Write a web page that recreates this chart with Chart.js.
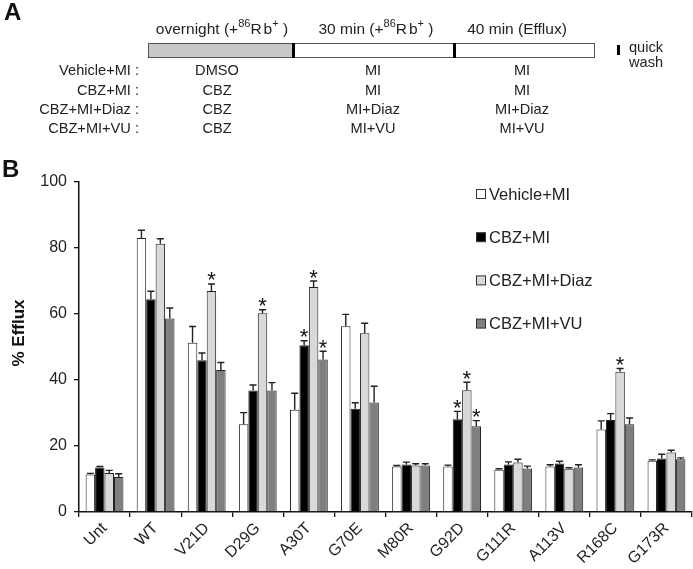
<!DOCTYPE html>
<html>
<head>
<meta charset="utf-8">
<script src="https://cdn.jsdelivr.net/npm/chart.js@4/dist/chart.umd.min.js"></script>
<style>
  html, body { margin: 0; padding: 0; background: #fff; }
  body { width: 693px; height: 569px; position: relative; overflow: hidden; font-family: "Liberation Sans", Arial, sans-serif; color: #222; }
  #c { position: absolute; left: 0; top: 0; }
  .t { position: absolute; font-size: 14.6px; line-height: 15px; white-space: nowrap; }
  .h { font-size: 15.5px; }
  .cc { transform: translate(-50%, -50%); }
  .rc { transform: translate(-100%, -50%); }
  .lc { transform: translate(0, -50%); }
  .big { position: absolute; font-size: 24px; line-height: 24px; font-weight: bold; color: #111; }
  sup { font-size: 11px; line-height: 0; vertical-align: 7px; }
  .sp { letter-spacing: 2px; }
  .bar { position: absolute; box-sizing: border-box; border: 1px solid #555; background: #fff; }
  .blk { position: absolute; background: #000; }
</style>
</head>
<body>
<canvas id="c" width="693" height="569"></canvas>

<!-- Panel A schematic -->
<div class="big" style="left:4px; top:0px;">A</div>
<div class="big" style="left:2px; top:157px;">B</div>

<div class="t h cc" style="left:222px; top:28px;">overnight (+<sup>86</sup><span class="sp">R</span>b<sup>+</sup>&nbsp;)</div>
<div class="t h cc" style="left:376px; top:28px;">30 min (+<sup>86</sup><span class="sp">R</span>b<sup>+</sup>&nbsp;)</div>
<div class="t h cc" style="left:517px; top:28px;">40 min (Efflux)</div>

<div class="bar" style="left:148px; top:43px; width:447px; height:15px;"></div>
<div class="bar" style="left:148px; top:43px; width:146px; height:15px; background:#c8c8c8;"></div>
<div class="blk" style="left:292px; top:43px; width:3px; height:15px;"></div>
<div class="blk" style="left:453px; top:43px; width:3px; height:15px;"></div>

<div class="blk" style="left:617px; top:45px; width:3px; height:10px;"></div>
<div class="t lc" style="left:629px; top:47px;">quick</div>
<div class="t lc" style="left:629px; top:62px;">wash</div>

<div class="t rc" style="left:139px; top:70px;">Vehicle+MI :</div>
<div class="t rc" style="left:139px; top:90px;">CBZ+MI :</div>
<div class="t rc" style="left:139px; top:109px;">CBZ+MI+Diaz :</div>
<div class="t rc" style="left:139px; top:128px;">CBZ+MI+VU :</div>

<div class="t cc" style="left:217px; top:70px;">DMSO</div>
<div class="t cc" style="left:217px; top:90px;">CBZ</div>
<div class="t cc" style="left:217px; top:109px;">CBZ</div>
<div class="t cc" style="left:217px; top:128px;">CBZ</div>

<div class="t cc" style="left:373px; top:70px;">MI</div>
<div class="t cc" style="left:373px; top:90px;">MI</div>
<div class="t cc" style="left:373px; top:109px;">MI+Diaz</div>
<div class="t cc" style="left:373px; top:128px;">MI+VU</div>

<div class="t cc" style="left:522px; top:70px;">MI</div>
<div class="t cc" style="left:522px; top:90px;">MI</div>
<div class="t cc" style="left:522px; top:109px;">MI+Diaz</div>
<div class="t cc" style="left:522px; top:128px;">MI+VU</div>

<script>
// ---- Data ----
const categories = ['Unt','WT','V21D','D29G','A30T','G70E','M80R','G92D','G111R','A113V','R168C','G173R'];
const seriesNames = ['Vehicle+MI','CBZ+MI','CBZ+MI+Diaz','CBZ+MI+VU'];

const vehicleMI     = [11.4, 83.0, 51.3, 26.6, 31.0, 56.3, 13.8, 13.8, 12.8, 13.8, 25.0, 15.5];
const vehicleMIErr  = [0.3,  2.4,  4.9,  3.5,  5.0,  3.6,  0.3,  0.4,  0.3,  0.5,  2.6,  0.3];
const cbzMI         = [13.5, 64.5, 46.0, 36.8, 50.5, 31.3, 14.4, 28.1, 14.4, 14.7, 27.9, 16.2];
const cbzMIErr      = [0.3,  2.4,  2.2,  1.7,  1.4,  1.8,  0.7,  2.4,  0.8,  0.7,  1.9,  1.3];
const cbzMIDiaz     = [11.8, 81.3, 67.0, 60.2, 68.2, 54.2, 14.1, 36.9, 15.0, 13.1, 42.5, 18.0];
const cbzMIDiazErr  = [0.8,  1.5,  2.1,  1.1,  1.8,  3.0,  0.5,  2.4,  1.0,  0.3,  1.0,  0.7];
const cbzMIVU       = [10.6, 58.6, 43.0, 36.8, 46.2, 33.2, 14.1, 26.0, 13.2, 13.5, 26.6, 16.0];
const cbzMIVUErr    = [1.0,  3.2,  2.3,  2.4,  2.5,  4.9,  0.5,  1.7,  0.7,  0.8,  1.9,  0.4];

// significance markers (*)
const vehicleMISig  = [0,0,0,0,0,0,0,0,0,0,0,0];
const cbzMISig      = [0,0,0,0,1,0,0,1,0,0,0,0];
const cbzMIDiazSig  = [0,0,1,1,1,0,0,1,0,0,1,0];
const cbzMIVUSig    = [0,0,0,0,1,0,0,1,0,0,0,0];

const yTicks = [0, 20, 40, 60, 80, 100];
const yTitle = '% Efflux';

// ---- Chart ----
const fills = ['#ffffff', '#000000', '#d9d9d9', '#7f7f7f'];
const vals = [vehicleMI, cbzMI, cbzMIDiaz, cbzMIVU];
const errs = [vehicleMIErr, cbzMIErr, cbzMIDiazErr, cbzMIVUErr];
const sigs = [vehicleMISig, cbzMISig, cbzMIDiazSig, cbzMIVUSig];

const datasets = seriesNames.map((name, i) => ({
  label: name,
  data: vals[i],
  errors: errs[i],
  sig: sigs[i],
  backgroundColor: fills[i],
  borderColor: '#222',
  borderWidth: 1,
  borderSkipped: 'bottom',
  categoryPercentage: 0.74,
  barPercentage: 1.0
}));

const FONT = '"Liberation Sans", Arial, sans-serif';

const extras = {
  id: 'extras',
  afterDatasetsDraw(chart) {
    const ctx = chart.ctx;
    const ys = chart.scales.y;
    ctx.save();
    chart.data.datasets.forEach((ds, di) => {
      const meta = chart.getDatasetMeta(di);
      meta.data.forEach((el, i) => {
        const v = ds.data[i], e = ds.errors[i];
        const yb = ys.getPixelForValue(v);
        const yt = ys.getPixelForValue(v + e);
        ctx.strokeStyle = '#222';
        ctx.lineWidth = 1.4;
        ctx.beginPath();
        ctx.moveTo(el.x, yb);
        ctx.lineTo(el.x, yt);
        ctx.moveTo(el.x - 3.5, yt);
        ctx.lineTo(el.x + 3.5, yt);
        ctx.stroke();
        if (ds.sig[i]) {
          ctx.fillStyle = '#111';
          ctx.font = '22px ' + FONT;
          ctx.textAlign = 'center';
          ctx.textBaseline = 'alphabetic';
          ctx.fillText('*', el.x, yt + 3.5);
        }
      });
    });
    // legend
    chart.data.datasets.forEach((ds, di) => {
      const cy = 194 + di * 43.2;
      ctx.fillStyle = ds.backgroundColor;
      ctx.fillRect(476.5, cy - 4.5, 9, 9);
      ctx.strokeStyle = '#333';
      ctx.lineWidth = 1;
      ctx.strokeRect(476.5, cy - 4.5, 9, 9);
      ctx.fillStyle = '#222';
      ctx.font = '16.5px ' + FONT;
      ctx.textAlign = 'left';
      ctx.textBaseline = 'middle';
      ctx.fillText(ds.label, 489, cy + 1);
    });
    // y axis title
    ctx.translate(19, 333);
    ctx.rotate(-Math.PI / 2);
    ctx.fillStyle = '#111';
    ctx.font = 'bold 17px ' + FONT;
    ctx.textAlign = 'center';
    ctx.textBaseline = 'middle';
    ctx.fillText(yTitle, 0, 0);
    ctx.restore();
  }
};

new Chart(document.getElementById('c'), {
  type: 'bar',
  data: { labels: categories, datasets },
  options: {
    responsive: false,
    animation: false,
    devicePixelRatio: 1,
    layout: { autoPadding: false, padding: { top: 182, right: 1, left: 0, bottom: 0 } },
    plugins: { legend: { display: false }, tooltip: { enabled: false } },
    scales: {
      x: {
        afterFit(s) { s.height = 57; },
        grid: { offset: true, drawOnChartArea: false, drawTicks: true, tickLength: 5, color: '#111', lineWidth: 1.3 },
        border: { display: true, color: '#111', width: 1.5 },
        ticks: {
          color: '#222',
          font: { family: FONT, size: 16 },
          minRotation: 45, maxRotation: 45,
          padding: 2,
          autoSkip: false
        }
      },
      y: {
        min: 0, max: 100,
        afterFit(s) { s.width = 79; },
        afterBuildTicks(s) { s.ticks = yTicks.map(v => ({ value: v })); },
        grid: { drawOnChartArea: false, drawTicks: true, tickLength: 5, color: '#111', lineWidth: 1.3 },
        border: { display: true, color: '#111', width: 1.5 },
        ticks: {
          color: '#222',
          font: { family: FONT, size: 16 },
          padding: 7
        }
      }
    }
  },
  plugins: [extras]
});
</script>
</body>
</html>
